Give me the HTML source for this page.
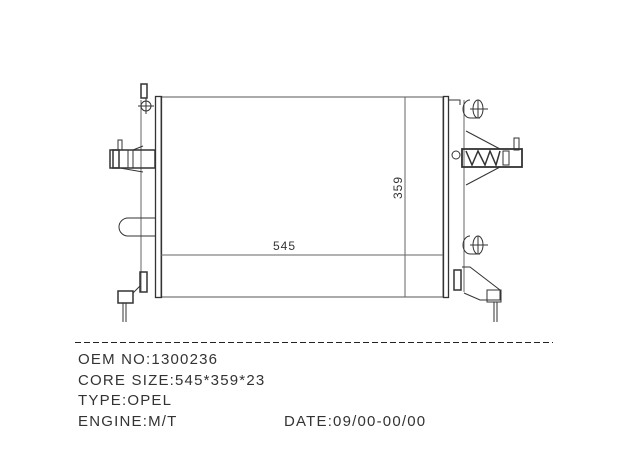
<!DOCTYPE html>
<html><head><meta charset="utf-8"><style>
html,body{margin:0;padding:0;background:#fff;}
svg{display:block;}
text{font-family:"Liberation Sans",sans-serif;fill:#333;}
</style></head><body>
<svg width="630" height="472" viewBox="0 0 630 472" xmlns="http://www.w3.org/2000/svg">
<g fill="none" stroke="#333" stroke-width="1">
<!-- core -->
<rect x="161" y="97" width="282" height="200" stroke="#555"/>
<rect x="155.5" y="96.5" width="6" height="201" stroke-width="1.3"/>
<rect x="443.5" y="96.5" width="5" height="201" stroke-width="1.3"/>
<line x1="161" y1="255" x2="443" y2="255" stroke="#666"/>
<line x1="405" y1="97" x2="405" y2="297" stroke="#666"/>
<!-- left side -->
<line x1="141" y1="100" x2="141" y2="292" stroke="#666"/>
<rect x="141" y="84" width="6" height="14" stroke-width="1.5"/>
<circle cx="146" cy="106" r="5"/><line x1="138" y1="106" x2="154" y2="106"/><line x1="146" y1="98" x2="146" y2="114"/>
<rect x="110" y="150" width="45" height="18" stroke-width="1.5"/>
<rect x="113" y="150" width="6" height="18" stroke-width="1.5"/>
<rect x="128" y="150" width="5" height="18"/>
<rect x="118" y="140" width="4" height="10"/>
<line x1="133" y1="150" x2="143" y2="146"/><line x1="120" y1="168" x2="143" y2="172"/>
<path d="M155 218 H128 A8 8 0 0 0 128 236 H155"/>
<rect x="140" y="272" width="7" height="20" stroke-width="1.5"/>
<rect x="118" y="291" width="15" height="12" stroke-width="1.5"/>
<line x1="133" y1="293" x2="140" y2="286"/>
<line x1="123" y1="303" x2="123" y2="322"/><line x1="126" y1="303" x2="126" y2="322"/>
<!-- right side -->
<line x1="464" y1="100" x2="464" y2="292" stroke="#666"/>
<path d="M449 100 H460 V105"/>
<path d="M470 100 A7 9 0 0 0 470 118 H480"/>
<ellipse cx="478" cy="109" rx="5" ry="9"/><line x1="470" y1="109" x2="488" y2="109"/><line x1="478" y1="100" x2="478" y2="118"/>
<rect x="462" y="149" width="60" height="18" stroke-width="1.8"/>
<path d="M466 151 L472 165 L478 151 L485 165 L490 151 L496 165 L500 151" stroke-width="1.5"/>
<rect x="503" y="151" width="6" height="14"/>
<rect x="514" y="138" width="5" height="12"/>
<line x1="466" y1="131" x2="500" y2="149"/><line x1="466" y1="185" x2="500" y2="167"/>
<circle cx="456" cy="155" r="4"/>
<path d="M470 236 A7 9 0 0 0 470 254 H480"/>
<ellipse cx="478" cy="245" rx="5" ry="9"/><line x1="470" y1="245" x2="488" y2="245"/><line x1="478" y1="236" x2="478" y2="254"/>
<rect x="454" y="270" width="7" height="20" stroke-width="1.5"/>
<path d="M462 267 H470 L500 290 V300 H480 L464 293"/>
<rect x="487" y="290" width="14" height="12"/>
<line x1="494" y1="302" x2="494" y2="322"/><line x1="497" y1="302" x2="497" y2="322"/>
<!-- dashed -->
<line x1="75" y1="342.5" x2="553" y2="342.5" stroke="#222" stroke-dasharray="6,3"/>
</g>
<text x="273" y="250" font-size="12" letter-spacing="1">545</text>
<text x="0" y="0" font-size="12" letter-spacing="1" transform="translate(402,199) rotate(-90)">359</text>
<g font-size="15" letter-spacing="1.2">
<text x="78" y="364">OEM NO:1300236</text>
<text x="78" y="385">CORE SIZE:545*359*23</text>
<text x="78" y="405">TYPE:OPEL</text>
<text x="78" y="426">ENGINE:M/T</text>
<text x="284" y="426">DATE:09/00-00/00</text>
</g>
</svg>
</body></html>
